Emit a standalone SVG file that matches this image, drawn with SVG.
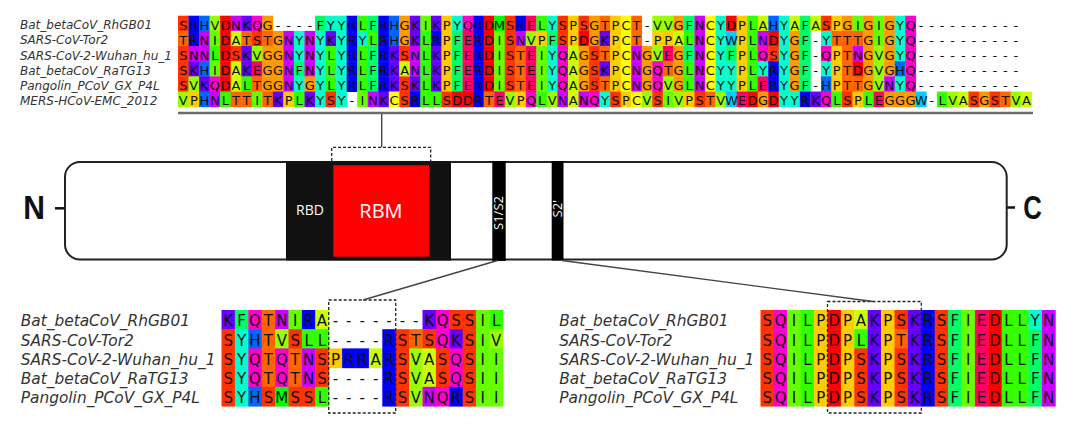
<svg xmlns="http://www.w3.org/2000/svg" width="1080" height="441" viewBox="0 0 1080 441">
<style>
.al rect{width:1.03px;height:1.03px}
.A{fill:#CCFF00}.R{fill:#0000FF}.N{fill:#CC00FF}.D{fill:#FF0000}.C{fill:#FFFF00}
.Q{fill:#FF00CC}.E{fill:#FF0066}.G{fill:#FF9900}.H{fill:#0066FF}.I{fill:#66FF00}
.L{fill:#33FF00}.K{fill:#6600FF}.M{fill:#00FF00}.F{fill:#00FF66}.P{fill:#FFCC00}
.S{fill:#FF3300}.T{fill:#FF6600}.W{fill:#00CCFF}.Y{fill:#00FFCC}.V{fill:#99FF00}
.nm{font-family:"DejaVu Sans","Liberation Sans",sans-serif;font-style:italic;fill:#333}
.nt{font-size:12px}.nb{font-size:15.4px}
.rs{font-family:"DejaVu Sans","Liberation Sans",sans-serif;fill:#111;text-anchor:middle}
.rt{font-size:13px}.rb{font-size:15px}
.wl{font-family:"Open Sans","Liberation Sans",sans-serif;fill:#fff;text-anchor:middle}
.term{font-family:"Liberation Sans",Arial,sans-serif;font-weight:bold;fill:#111;font-size:33px;text-anchor:middle}
.dash{fill:none;stroke:#222;stroke-width:1.3;stroke-dasharray:3 2}
.con{stroke:#444;stroke-width:1.4;fill:none}
</style>

<g id="top-alignment">
<g class="al" transform="translate(178 15.7) scale(10.54 15.17)">
<g>
<rect x="0" class="S"/><rect x="1" class="R"/><rect x="2" class="H"/><rect x="3" class="V"/><rect x="4" class="D"/><rect x="5" class="N"/><rect x="6" class="K"/><rect x="7" class="Q"/><rect x="8" class="G"/><rect x="13" class="F"/><rect x="14" class="Y"/><rect x="15" class="Y"/><rect x="16" class="R"/><rect x="17" class="L"/><rect x="18" class="F"/><rect x="19" class="R"/><rect x="20" class="H"/><rect x="21" class="G"/><rect x="22" class="K"/><rect x="23" class="I"/><rect x="24" class="K"/><rect x="25" class="P"/><rect x="26" class="Y"/><rect x="27" class="Q"/><rect x="28" class="R"/><rect x="29" class="D"/><rect x="30" class="M"/><rect x="31" class="S"/><rect x="32" class="R"/><rect x="33" class="E"/><rect x="34" class="L"/><rect x="35" class="Y"/><rect x="36" class="S"/><rect x="37" class="P"/><rect x="38" class="S"/><rect x="39" class="G"/><rect x="40" class="T"/><rect x="41" class="P"/><rect x="42" class="C"/><rect x="43" class="T"/><rect x="45" class="V"/><rect x="46" class="V"/><rect x="47" class="G"/><rect x="48" class="F"/><rect x="49" class="N"/><rect x="50" class="C"/><rect x="51" class="Y"/><rect x="52" class="D"/><rect x="53" class="P"/><rect x="54" class="L"/><rect x="55" class="A"/><rect x="56" class="H"/><rect x="57" class="Y"/><rect x="58" class="A"/><rect x="59" class="F"/><rect x="60" class="A"/><rect x="61" class="S"/><rect x="62" class="P"/><rect x="63" class="G"/><rect x="64" class="I"/><rect x="65" class="G"/><rect x="66" class="I"/><rect x="67" class="G"/><rect x="68" class="Y"/><rect x="69" class="Q"/>
</g>
<g transform="translate(0 1)">
<rect x="0" class="T"/><rect x="1" class="R"/><rect x="2" class="N"/><rect x="3" class="I"/><rect x="4" class="D"/><rect x="5" class="A"/><rect x="6" class="T"/><rect x="7" class="S"/><rect x="8" class="T"/><rect x="9" class="G"/><rect x="10" class="N"/><rect x="11" class="Y"/><rect x="12" class="N"/><rect x="13" class="Y"/><rect x="14" class="K"/><rect x="15" class="Y"/><rect x="16" class="R"/><rect x="17" class="Y"/><rect x="18" class="L"/><rect x="19" class="R"/><rect x="20" class="H"/><rect x="21" class="G"/><rect x="22" class="K"/><rect x="23" class="L"/><rect x="24" class="R"/><rect x="25" class="P"/><rect x="26" class="F"/><rect x="27" class="E"/><rect x="28" class="R"/><rect x="29" class="D"/><rect x="30" class="I"/><rect x="31" class="S"/><rect x="32" class="N"/><rect x="33" class="V"/><rect x="34" class="P"/><rect x="35" class="F"/><rect x="36" class="S"/><rect x="37" class="P"/><rect x="38" class="D"/><rect x="39" class="G"/><rect x="40" class="K"/><rect x="41" class="P"/><rect x="42" class="C"/><rect x="43" class="T"/><rect x="45" class="P"/><rect x="46" class="P"/><rect x="47" class="A"/><rect x="48" class="L"/><rect x="49" class="N"/><rect x="50" class="C"/><rect x="51" class="Y"/><rect x="52" class="W"/><rect x="53" class="P"/><rect x="54" class="L"/><rect x="55" class="N"/><rect x="56" class="D"/><rect x="57" class="Y"/><rect x="58" class="G"/><rect x="59" class="F"/><rect x="61" class="Y"/><rect x="62" class="T"/><rect x="63" class="T"/><rect x="64" class="T"/><rect x="65" class="G"/><rect x="66" class="I"/><rect x="67" class="G"/><rect x="68" class="Y"/><rect x="69" class="Q"/>
</g>
<g transform="translate(0 2)">
<rect x="0" class="S"/><rect x="1" class="N"/><rect x="2" class="N"/><rect x="3" class="L"/><rect x="4" class="D"/><rect x="5" class="S"/><rect x="6" class="K"/><rect x="7" class="V"/><rect x="8" class="G"/><rect x="9" class="G"/><rect x="10" class="N"/><rect x="11" class="Y"/><rect x="12" class="N"/><rect x="13" class="Y"/><rect x="14" class="L"/><rect x="15" class="Y"/><rect x="16" class="R"/><rect x="17" class="L"/><rect x="18" class="F"/><rect x="19" class="R"/><rect x="20" class="K"/><rect x="21" class="S"/><rect x="22" class="N"/><rect x="23" class="L"/><rect x="24" class="K"/><rect x="25" class="P"/><rect x="26" class="F"/><rect x="27" class="E"/><rect x="28" class="R"/><rect x="29" class="D"/><rect x="30" class="I"/><rect x="31" class="S"/><rect x="32" class="T"/><rect x="33" class="E"/><rect x="34" class="I"/><rect x="35" class="Y"/><rect x="36" class="Q"/><rect x="37" class="A"/><rect x="38" class="G"/><rect x="39" class="S"/><rect x="40" class="T"/><rect x="41" class="P"/><rect x="42" class="C"/><rect x="43" class="N"/><rect x="44" class="G"/><rect x="45" class="V"/><rect x="46" class="E"/><rect x="47" class="G"/><rect x="48" class="F"/><rect x="49" class="N"/><rect x="50" class="C"/><rect x="51" class="Y"/><rect x="52" class="F"/><rect x="53" class="P"/><rect x="54" class="L"/><rect x="55" class="Q"/><rect x="56" class="S"/><rect x="57" class="Y"/><rect x="58" class="G"/><rect x="59" class="F"/><rect x="61" class="Q"/><rect x="62" class="P"/><rect x="63" class="T"/><rect x="64" class="N"/><rect x="65" class="G"/><rect x="66" class="V"/><rect x="67" class="G"/><rect x="68" class="Y"/><rect x="69" class="Q"/>
</g>
<g transform="translate(0 3)">
<rect x="0" class="S"/><rect x="1" class="K"/><rect x="2" class="H"/><rect x="3" class="I"/><rect x="4" class="D"/><rect x="5" class="A"/><rect x="6" class="K"/><rect x="7" class="E"/><rect x="8" class="G"/><rect x="9" class="G"/><rect x="10" class="N"/><rect x="11" class="F"/><rect x="12" class="N"/><rect x="13" class="Y"/><rect x="14" class="L"/><rect x="15" class="Y"/><rect x="16" class="R"/><rect x="17" class="L"/><rect x="18" class="F"/><rect x="19" class="R"/><rect x="20" class="K"/><rect x="21" class="A"/><rect x="22" class="N"/><rect x="23" class="L"/><rect x="24" class="K"/><rect x="25" class="P"/><rect x="26" class="F"/><rect x="27" class="E"/><rect x="28" class="R"/><rect x="29" class="D"/><rect x="30" class="I"/><rect x="31" class="S"/><rect x="32" class="T"/><rect x="33" class="E"/><rect x="34" class="I"/><rect x="35" class="Y"/><rect x="36" class="Q"/><rect x="37" class="A"/><rect x="38" class="G"/><rect x="39" class="S"/><rect x="40" class="K"/><rect x="41" class="P"/><rect x="42" class="C"/><rect x="43" class="N"/><rect x="44" class="G"/><rect x="45" class="Q"/><rect x="46" class="T"/><rect x="47" class="G"/><rect x="48" class="L"/><rect x="49" class="N"/><rect x="50" class="C"/><rect x="51" class="Y"/><rect x="52" class="Y"/><rect x="53" class="P"/><rect x="54" class="L"/><rect x="55" class="Y"/><rect x="56" class="R"/><rect x="57" class="Y"/><rect x="58" class="G"/><rect x="59" class="F"/><rect x="61" class="Y"/><rect x="62" class="P"/><rect x="63" class="T"/><rect x="64" class="D"/><rect x="65" class="G"/><rect x="66" class="V"/><rect x="67" class="G"/><rect x="68" class="H"/><rect x="69" class="Q"/>
</g>
<g transform="translate(0 4)">
<rect x="0" class="S"/><rect x="1" class="V"/><rect x="2" class="K"/><rect x="3" class="Q"/><rect x="4" class="D"/><rect x="5" class="A"/><rect x="6" class="L"/><rect x="7" class="T"/><rect x="8" class="G"/><rect x="9" class="G"/><rect x="10" class="N"/><rect x="11" class="Y"/><rect x="12" class="G"/><rect x="13" class="Y"/><rect x="14" class="L"/><rect x="15" class="Y"/><rect x="16" class="R"/><rect x="17" class="L"/><rect x="18" class="F"/><rect x="19" class="R"/><rect x="20" class="K"/><rect x="21" class="S"/><rect x="22" class="K"/><rect x="23" class="L"/><rect x="24" class="K"/><rect x="25" class="P"/><rect x="26" class="F"/><rect x="27" class="E"/><rect x="28" class="R"/><rect x="29" class="D"/><rect x="30" class="I"/><rect x="31" class="S"/><rect x="32" class="T"/><rect x="33" class="E"/><rect x="34" class="I"/><rect x="35" class="Y"/><rect x="36" class="Q"/><rect x="37" class="A"/><rect x="38" class="G"/><rect x="39" class="S"/><rect x="40" class="T"/><rect x="41" class="P"/><rect x="42" class="C"/><rect x="43" class="N"/><rect x="44" class="G"/><rect x="45" class="Q"/><rect x="46" class="V"/><rect x="47" class="G"/><rect x="48" class="L"/><rect x="49" class="N"/><rect x="50" class="C"/><rect x="51" class="Y"/><rect x="52" class="Y"/><rect x="53" class="P"/><rect x="54" class="L"/><rect x="55" class="E"/><rect x="56" class="R"/><rect x="57" class="Y"/><rect x="58" class="G"/><rect x="59" class="F"/><rect x="61" class="H"/><rect x="62" class="P"/><rect x="63" class="T"/><rect x="64" class="T"/><rect x="65" class="G"/><rect x="66" class="V"/><rect x="67" class="N"/><rect x="68" class="Y"/><rect x="69" class="Q"/>
</g>
<g transform="translate(0 5)">
<rect x="0" class="V"/><rect x="1" class="P"/><rect x="2" class="H"/><rect x="3" class="N"/><rect x="4" class="L"/><rect x="5" class="T"/><rect x="6" class="T"/><rect x="7" class="I"/><rect x="8" class="T"/><rect x="9" class="K"/><rect x="10" class="P"/><rect x="11" class="L"/><rect x="12" class="K"/><rect x="13" class="Y"/><rect x="14" class="S"/><rect x="15" class="Y"/><rect x="17" class="I"/><rect x="18" class="N"/><rect x="19" class="K"/><rect x="20" class="C"/><rect x="21" class="S"/><rect x="22" class="R"/><rect x="23" class="L"/><rect x="24" class="L"/><rect x="25" class="S"/><rect x="26" class="D"/><rect x="27" class="D"/><rect x="28" class="R"/><rect x="29" class="T"/><rect x="30" class="E"/><rect x="31" class="V"/><rect x="32" class="P"/><rect x="33" class="Q"/><rect x="34" class="L"/><rect x="35" class="V"/><rect x="36" class="N"/><rect x="37" class="A"/><rect x="38" class="N"/><rect x="39" class="Q"/><rect x="40" class="Y"/><rect x="41" class="S"/><rect x="42" class="P"/><rect x="43" class="C"/><rect x="44" class="V"/><rect x="45" class="S"/><rect x="46" class="I"/><rect x="47" class="V"/><rect x="48" class="P"/><rect x="49" class="S"/><rect x="50" class="T"/><rect x="51" class="V"/><rect x="52" class="W"/><rect x="53" class="E"/><rect x="54" class="D"/><rect x="55" class="G"/><rect x="56" class="D"/><rect x="57" class="Y"/><rect x="58" class="Y"/><rect x="59" class="R"/><rect x="60" class="K"/><rect x="61" class="Q"/><rect x="62" class="L"/><rect x="63" class="S"/><rect x="64" class="P"/><rect x="65" class="L"/><rect x="66" class="E"/><rect x="67" class="G"/><rect x="68" class="G"/><rect x="69" class="G"/><rect x="70" class="W"/><rect x="72" class="L"/><rect x="73" class="V"/><rect x="74" class="A"/><rect x="75" class="S"/><rect x="76" class="G"/><rect x="77" class="S"/><rect x="78" class="T"/><rect x="79" class="V"/><rect x="80" class="A"/>
</g>
</g>
<g class="rs rt">
<text y="29.5" x="183.27 193.81 204.35 214.89 225.43 235.97 246.51 257.05 267.59 278.13 288.67 299.21 309.75 320.29 330.83 341.37 351.91 362.45 372.99 383.53 394.07 404.61 415.15 425.69 436.23 446.77 457.31 467.85 478.39 488.93 499.47 510.01 520.55 531.09 541.63 552.17 562.71 573.25 583.79 594.33 604.87 615.41 625.95 636.49 647.03 657.57 668.11 678.65 689.19 699.73 710.27 720.81 731.35 741.89 752.43 762.97 773.51 784.05 794.59 805.13 815.67 826.21 836.75 847.29 857.83 868.37 878.91 889.45 899.99 910.53 921.07 931.61 942.15 952.69 963.23 973.77 984.31 994.85 1005.39 1015.93 1026.47">SRHVDNKQG----FYYRLFRHGKIKPYQRDMSRELYSPSGTPCT-VVGFNCYDPLAHYAFASPGIGIGYQ----------</text>
<text y="44.67" x="183.27 193.81 204.35 214.89 225.43 235.97 246.51 257.05 267.59 278.13 288.67 299.21 309.75 320.29 330.83 341.37 351.91 362.45 372.99 383.53 394.07 404.61 415.15 425.69 436.23 446.77 457.31 467.85 478.39 488.93 499.47 510.01 520.55 531.09 541.63 552.17 562.71 573.25 583.79 594.33 604.87 615.41 625.95 636.49 647.03 657.57 668.11 678.65 689.19 699.73 710.27 720.81 731.35 741.89 752.43 762.97 773.51 784.05 794.59 805.13 815.67 826.21 836.75 847.29 857.83 868.37 878.91 889.45 899.99 910.53 921.07 931.61 942.15 952.69 963.23 973.77 984.31 994.85 1005.39 1015.93 1026.47">TRNIDATSTGNYNYKYRYLRHGKLRPFERDISNVPFSPDGKPCT-PPALNCYWPLNDYGF-YTTTGIGYQ----------</text>
<text y="59.84" x="183.27 193.81 204.35 214.89 225.43 235.97 246.51 257.05 267.59 278.13 288.67 299.21 309.75 320.29 330.83 341.37 351.91 362.45 372.99 383.53 394.07 404.61 415.15 425.69 436.23 446.77 457.31 467.85 478.39 488.93 499.47 510.01 520.55 531.09 541.63 552.17 562.71 573.25 583.79 594.33 604.87 615.41 625.95 636.49 647.03 657.57 668.11 678.65 689.19 699.73 710.27 720.81 731.35 741.89 752.43 762.97 773.51 784.05 794.59 805.13 815.67 826.21 836.75 847.29 857.83 868.37 878.91 889.45 899.99 910.53 921.07 931.61 942.15 952.69 963.23 973.77 984.31 994.85 1005.39 1015.93 1026.47">SNNLDSKVGGNYNYLYRLFRKSNLKPFERDISTEIYQAGSTPCNGVEGFNCYFPLQSYGF-QPTNGVGYQ----------</text>
<text y="75.01" x="183.27 193.81 204.35 214.89 225.43 235.97 246.51 257.05 267.59 278.13 288.67 299.21 309.75 320.29 330.83 341.37 351.91 362.45 372.99 383.53 394.07 404.61 415.15 425.69 436.23 446.77 457.31 467.85 478.39 488.93 499.47 510.01 520.55 531.09 541.63 552.17 562.71 573.25 583.79 594.33 604.87 615.41 625.95 636.49 647.03 657.57 668.11 678.65 689.19 699.73 710.27 720.81 731.35 741.89 752.43 762.97 773.51 784.05 794.59 805.13 815.67 826.21 836.75 847.29 857.83 868.37 878.91 889.45 899.99 910.53 921.07 931.61 942.15 952.69 963.23 973.77 984.31 994.85 1005.39 1015.93 1026.47">SKHIDAKEGGNFNYLYRLFRKANLKPFERDISTEIYQAGSKPCNGQTGLNCYYPLYRYGF-YPTDGVGHQ----------</text>
<text y="90.18" x="183.27 193.81 204.35 214.89 225.43 235.97 246.51 257.05 267.59 278.13 288.67 299.21 309.75 320.29 330.83 341.37 351.91 362.45 372.99 383.53 394.07 404.61 415.15 425.69 436.23 446.77 457.31 467.85 478.39 488.93 499.47 510.01 520.55 531.09 541.63 552.17 562.71 573.25 583.79 594.33 604.87 615.41 625.95 636.49 647.03 657.57 668.11 678.65 689.19 699.73 710.27 720.81 731.35 741.89 752.43 762.97 773.51 784.05 794.59 805.13 815.67 826.21 836.75 847.29 857.83 868.37 878.91 889.45 899.99 910.53 921.07 931.61 942.15 952.69 963.23 973.77 984.31 994.85 1005.39 1015.93 1026.47">SVKQDALTGGNYGYLYRLFRKSKLKPFERDISTEIYQAGSTPCNGQVGLNCYYPLERYGF-HPTTGVNYQ----------</text>
<text y="105.35" x="183.27 193.81 204.35 214.89 225.43 235.97 246.51 257.05 267.59 278.13 288.67 299.21 309.75 320.29 330.83 341.37 351.91 362.45 372.99 383.53 394.07 404.61 415.15 425.69 436.23 446.77 457.31 467.85 478.39 488.93 499.47 510.01 520.55 531.09 541.63 552.17 562.71 573.25 583.79 594.33 604.87 615.41 625.95 636.49 647.03 657.57 668.11 678.65 689.19 699.73 710.27 720.81 731.35 741.89 752.43 762.97 773.51 784.05 794.59 805.13 815.67 826.21 836.75 847.29 857.83 868.37 878.91 889.45 899.99 910.53 921.07 931.61 942.15 952.69 963.23 973.77 984.31 994.85 1005.39 1015.93 1026.47">VPHNLTTITKPLKYSY-INKCSRLLSDDRTEVPQLVNANQYSPCVSIVPSTVWEDGDYYRKQLSPLEGGGW-LVASGSTVA</text>
</g>
<g class="nm nt">
<text x="20" y="29.3">Bat_betaCoV_RhGB01</text>
<text x="20" y="44.47">SARS-CoV-Tor2</text>
<text x="20" y="59.64">SARS-CoV-2-Wuhan_hu_1</text>
<text x="20" y="74.81">Bat_betaCoV_RaTG13</text>
<text x="20" y="89.98">Pangolin_PCoV_GX_P4L</text>
<text x="20" y="105.15">MERS-HCoV-EMC_2012</text>
</g>
<line x1="178" y1="113" x2="1033" y2="113" stroke="#6b6b6b" stroke-width="2.5"/>
</g>

<g id="spike-protein">
<line x1="55" y1="208.3" x2="65" y2="208.3" stroke="#111" stroke-width="2.5"/>
<line x1="1006.7" y1="207.5" x2="1015" y2="207.5" stroke="#111" stroke-width="2.5"/>
<text class="term" x="34.2" y="219" textLength="21.7" lengthAdjust="spacingAndGlyphs">N</text>
<text class="term" x="1032.5" y="219" textLength="18.6" lengthAdjust="spacingAndGlyphs">C</text>
<rect x="65" y="162" width="941.7" height="97.5" rx="15" ry="15" fill="#fff" stroke="#222" stroke-width="2"/>
<g id="rbd">
<rect x="286" y="161" width="165" height="99.5" fill="#111"/>
<text class="wl" x="310" y="215" font-size="14">RBD</text>
</g>
<g id="rbm">
<rect x="333.3" y="165.3" width="96" height="91.4" fill="#FF0000"/>
<text class="wl" x="381" y="218" font-size="20">RBM</text>
</g>
<g id="s1s2">
<rect x="492.3" y="161" width="13.4" height="100" fill="#000"/>
<text class="wl" font-size="13" transform="translate(503.2 213) rotate(-90)">S1/S2</text>
</g>
<g id="s2prime">
<rect x="551.7" y="161" width="11.8" height="99.5" fill="#000"/>
<text class="wl" font-size="13" transform="translate(562.2 208.7) rotate(-90)">S2'</text>
</g>
<path class="dash" d="M331.7 161 V147.3 H430.7 V161"/>
</g>

<g id="s1s2-alignment">
<g class="al" transform="translate(221.5 310) scale(13.4 19.2)">
<g>
<rect x="0" class="K"/><rect x="1" class="F"/><rect x="2" class="Q"/><rect x="3" class="T"/><rect x="4" class="N"/><rect x="5" class="I"/><rect x="6" class="R"/><rect x="7" class="A"/><rect x="15" class="K"/><rect x="16" class="Q"/><rect x="17" class="S"/><rect x="18" class="S"/><rect x="19" class="I"/><rect x="20" class="L"/>
</g>
<g transform="translate(0 1)">
<rect x="0" class="S"/><rect x="1" class="Y"/><rect x="2" class="H"/><rect x="3" class="T"/><rect x="4" class="V"/><rect x="5" class="S"/><rect x="6" class="L"/><rect x="7" class="L"/><rect x="12" class="R"/><rect x="13" class="S"/><rect x="14" class="T"/><rect x="15" class="S"/><rect x="16" class="Q"/><rect x="17" class="K"/><rect x="18" class="S"/><rect x="19" class="I"/><rect x="20" class="V"/>
</g>
<g transform="translate(0 2)">
<rect x="0" class="S"/><rect x="1" class="Y"/><rect x="2" class="Q"/><rect x="3" class="T"/><rect x="4" class="Q"/><rect x="5" class="T"/><rect x="6" class="N"/><rect x="7" class="S"/><rect x="8" class="P"/><rect x="9" class="R"/><rect x="10" class="R"/><rect x="11" class="A"/><rect x="12" class="R"/><rect x="13" class="S"/><rect x="14" class="V"/><rect x="15" class="A"/><rect x="16" class="S"/><rect x="17" class="Q"/><rect x="18" class="S"/><rect x="19" class="I"/><rect x="20" class="I"/>
</g>
<g transform="translate(0 3)">
<rect x="0" class="S"/><rect x="1" class="Y"/><rect x="2" class="Q"/><rect x="3" class="T"/><rect x="4" class="Q"/><rect x="5" class="T"/><rect x="6" class="N"/><rect x="7" class="S"/><rect x="12" class="R"/><rect x="13" class="S"/><rect x="14" class="V"/><rect x="15" class="A"/><rect x="16" class="S"/><rect x="17" class="Q"/><rect x="18" class="S"/><rect x="19" class="I"/><rect x="20" class="I"/>
</g>
<g transform="translate(0 4)">
<rect x="0" class="S"/><rect x="1" class="Y"/><rect x="2" class="H"/><rect x="3" class="S"/><rect x="4" class="M"/><rect x="5" class="S"/><rect x="6" class="S"/><rect x="7" class="L"/><rect x="12" class="R"/><rect x="13" class="S"/><rect x="14" class="V"/><rect x="15" class="N"/><rect x="16" class="Q"/><rect x="17" class="R"/><rect x="18" class="S"/><rect x="19" class="I"/><rect x="20" class="I"/>
</g>
</g>
<g class="rs rb">
<text y="326.3" x="228.2 241.6 255 268.4 281.8 295.2 308.6 322 335.4 348.8 362.2 375.6 389 402.4 415.8 429.2 442.6 456 469.4 482.8 496.2">KFQTNIRA-------KQSSIL</text>
<text y="345.5" x="228.2 241.6 255 268.4 281.8 295.2 308.6 322 335.4 348.8 362.2 375.6 389 402.4 415.8 429.2 442.6 456 469.4 482.8 496.2">SYHTVSLL----RSTSQKSIV</text>
<text y="364.7" x="228.2 241.6 255 268.4 281.8 295.2 308.6 322 335.4 348.8 362.2 375.6 389 402.4 415.8 429.2 442.6 456 469.4 482.8 496.2">SYQTQTNSPRRARSVASQSII</text>
<text y="383.9" x="228.2 241.6 255 268.4 281.8 295.2 308.6 322 335.4 348.8 362.2 375.6 389 402.4 415.8 429.2 442.6 456 469.4 482.8 496.2">SYQTQTNS----RSVASQSII</text>
<text y="403.1" x="228.2 241.6 255 268.4 281.8 295.2 308.6 322 335.4 348.8 362.2 375.6 389 402.4 415.8 429.2 442.6 456 469.4 482.8 496.2">SYHSMSSL----RSVNQRSII</text>
</g>
<g class="nm nb">
<text x="20.7" y="326.3">Bat_betaCoV_RhGB01</text>
<text x="20.7" y="345.5">SARS-CoV-Tor2</text>
<text x="20.7" y="364.7">SARS-CoV-2-Wuhan_hu_1</text>
<text x="20.7" y="383.9">Bat_betaCoV_RaTG13</text>
<text x="20.7" y="403.1">Pangolin_PCoV_GX_P4L</text>
</g>
<rect class="dash" x="328.7" y="300" width="67" height="113"/>
</g>

<g id="s2prime-alignment">
<g class="al" transform="translate(760.5 310) scale(13.4 19.2)">
<g>
<rect x="0" class="S"/><rect x="1" class="Q"/><rect x="2" class="I"/><rect x="3" class="L"/><rect x="4" class="P"/><rect x="5" class="D"/><rect x="6" class="P"/><rect x="7" class="A"/><rect x="8" class="K"/><rect x="9" class="P"/><rect x="10" class="S"/><rect x="11" class="K"/><rect x="12" class="R"/><rect x="13" class="S"/><rect x="14" class="F"/><rect x="15" class="I"/><rect x="16" class="E"/><rect x="17" class="D"/><rect x="18" class="L"/><rect x="19" class="L"/><rect x="20" class="Y"/><rect x="21" class="N"/>
</g>
<g transform="translate(0 1)">
<rect x="0" class="S"/><rect x="1" class="Q"/><rect x="2" class="I"/><rect x="3" class="L"/><rect x="4" class="P"/><rect x="5" class="D"/><rect x="6" class="P"/><rect x="7" class="L"/><rect x="8" class="K"/><rect x="9" class="P"/><rect x="10" class="T"/><rect x="11" class="K"/><rect x="12" class="R"/><rect x="13" class="S"/><rect x="14" class="F"/><rect x="15" class="I"/><rect x="16" class="E"/><rect x="17" class="D"/><rect x="18" class="L"/><rect x="19" class="L"/><rect x="20" class="F"/><rect x="21" class="N"/>
</g>
<g transform="translate(0 2)">
<rect x="0" class="S"/><rect x="1" class="Q"/><rect x="2" class="I"/><rect x="3" class="L"/><rect x="4" class="P"/><rect x="5" class="D"/><rect x="6" class="P"/><rect x="7" class="S"/><rect x="8" class="K"/><rect x="9" class="P"/><rect x="10" class="S"/><rect x="11" class="K"/><rect x="12" class="R"/><rect x="13" class="S"/><rect x="14" class="F"/><rect x="15" class="I"/><rect x="16" class="E"/><rect x="17" class="D"/><rect x="18" class="L"/><rect x="19" class="L"/><rect x="20" class="F"/><rect x="21" class="N"/>
</g>
<g transform="translate(0 3)">
<rect x="0" class="S"/><rect x="1" class="Q"/><rect x="2" class="I"/><rect x="3" class="L"/><rect x="4" class="P"/><rect x="5" class="D"/><rect x="6" class="P"/><rect x="7" class="S"/><rect x="8" class="K"/><rect x="9" class="P"/><rect x="10" class="S"/><rect x="11" class="K"/><rect x="12" class="R"/><rect x="13" class="S"/><rect x="14" class="F"/><rect x="15" class="I"/><rect x="16" class="E"/><rect x="17" class="D"/><rect x="18" class="L"/><rect x="19" class="L"/><rect x="20" class="F"/><rect x="21" class="N"/>
</g>
<g transform="translate(0 4)">
<rect x="0" class="S"/><rect x="1" class="Q"/><rect x="2" class="I"/><rect x="3" class="L"/><rect x="4" class="P"/><rect x="5" class="D"/><rect x="6" class="P"/><rect x="7" class="S"/><rect x="8" class="K"/><rect x="9" class="P"/><rect x="10" class="S"/><rect x="11" class="K"/><rect x="12" class="R"/><rect x="13" class="S"/><rect x="14" class="F"/><rect x="15" class="I"/><rect x="16" class="E"/><rect x="17" class="D"/><rect x="18" class="L"/><rect x="19" class="L"/><rect x="20" class="F"/><rect x="21" class="N"/>
</g>
</g>
<g class="rs rb">
<text y="326.3" x="767.2 780.6 794 807.4 820.8 834.2 847.6 861 874.4 887.8 901.2 914.6 928 941.4 954.8 968.2 981.6 995 1008.4 1021.8 1035.2 1048.6">SQILPDPAKPSKRSFIEDLLYN</text>
<text y="345.5" x="767.2 780.6 794 807.4 820.8 834.2 847.6 861 874.4 887.8 901.2 914.6 928 941.4 954.8 968.2 981.6 995 1008.4 1021.8 1035.2 1048.6">SQILPDPLKPTKRSFIEDLLFN</text>
<text y="364.7" x="767.2 780.6 794 807.4 820.8 834.2 847.6 861 874.4 887.8 901.2 914.6 928 941.4 954.8 968.2 981.6 995 1008.4 1021.8 1035.2 1048.6">SQILPDPSKPSKRSFIEDLLFN</text>
<text y="383.9" x="767.2 780.6 794 807.4 820.8 834.2 847.6 861 874.4 887.8 901.2 914.6 928 941.4 954.8 968.2 981.6 995 1008.4 1021.8 1035.2 1048.6">SQILPDPSKPSKRSFIEDLLFN</text>
<text y="403.1" x="767.2 780.6 794 807.4 820.8 834.2 847.6 861 874.4 887.8 901.2 914.6 928 941.4 954.8 968.2 981.6 995 1008.4 1021.8 1035.2 1048.6">SQILPDPSKPSKRSFIEDLLFN</text>
</g>
<g class="nm nb">
<text x="559.3" y="326.3">Bat_betaCoV_RhGB01</text>
<text x="559.3" y="345.5">SARS-CoV-Tor2</text>
<text x="559.3" y="364.7">SARS-CoV-2-Wuhan_hu_1</text>
<text x="559.3" y="383.9">Bat_betaCoV_RaTG13</text>
<text x="559.3" y="403.1">Pangolin_PCoV_GX_P4L</text>
</g>
<rect class="dash" x="827.5" y="301.5" width="93.8" height="111.5"/>
</g>

<g id="connectors">
<line class="con" x1="381.7" y1="114" x2="381.7" y2="147.3"/>
<line class="con" x1="497.5" y1="260.5" x2="363" y2="300"/>
<line class="con" x1="562" y1="260.5" x2="873" y2="301.5"/>
</g>
</svg>
